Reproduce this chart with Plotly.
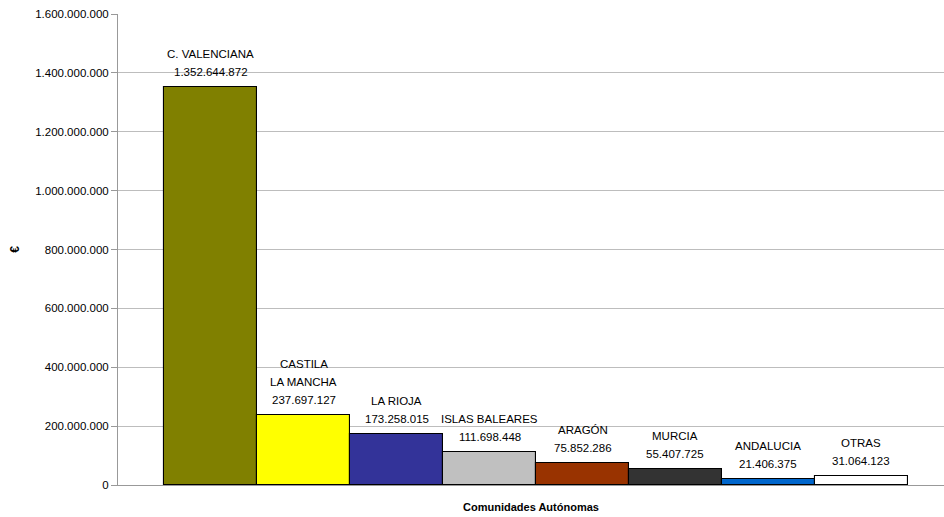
import plotly.graph_objects as go

categories = ["C. VALENCIANA", "CASTILA<br>LA MANCHA", "LA RIOJA", "ISLAS BALEARES",
              "ARAGÓN", "MURCIA", "ANDALUCIA", "OTRAS"]
values = [1352644872, 237697127, 173258015, 111698448, 75852286, 55407725, 21406375, 31064123]
value_labels = ["1.352.644.872", "237.697.127", "173.258.015", "111.698.448",
                "75.852.286", "55.407.725", "21.406.375", "31.064.123"]
colors = ["#808000", "#FFFF00", "#333399", "#C0C0C0", "#993300", "#333333", "#0066CC", "#FFFFFF"]
tick_vals = [0, 200000000, 400000000, 600000000, 800000000, 1000000000, 1200000000, 1400000000, 1600000000]

FONT = "Liberation Sans"
xs = list(range(len(categories)))

fig = go.Figure()
fig.add_trace(go.Bar(
    x=xs, y=values, width=1,
    marker=dict(color=colors, line=dict(color="#000000", width=1.1)),
    hoverinfo="skip",
))

annotations = []
for i, (cat, val, lab) in enumerate(zip(categories, values, value_labels)):
    lines = cat.split("<br>") + [lab]
    for k, line in enumerate(reversed(lines)):
        annotations.append(dict(
            x=i, y=val, xref="x", yref="y", text=line, showarrow=False,
            yanchor="middle", yshift=15 + k * 18,
            font=dict(family=FONT, size=11.5, color="#000000"),
        ))

fig.update_layout(
    width=944, height=517,
    margin=dict(l=118, r=0, t=14, b=32),
    paper_bgcolor="white", plot_bgcolor="white",
    separators=",.",
    showlegend=False,
    bargap=0,
    annotations=annotations,
    font=dict(family=FONT, size=11.5, color="#000000"),
)
fig.update_xaxes(
    range=[-1, 7.89], showticklabels=False, showgrid=False, zeroline=False,
    showline=True, linecolor="#999999", linewidth=1, ticks="",
    title=dict(text="<b>Comunidades Autónomas</b>", font=dict(family=FONT, size=11), standoff=18),
)
fig.update_yaxes(
    range=[0, 1600000000], tickvals=tick_vals, tickformat=",d",
    showgrid=True, gridcolor="#BDBDBD", gridwidth=1, zeroline=False,
    showline=True, linecolor="#999999", linewidth=1,
    ticks="outside", ticklen=6, tickcolor="#999999",
    tickfont=dict(family=FONT, size=11.5, color="#000000"),
    title=dict(text="<b>€</b>", font=dict(family=FONT, size=12), standoff=12),
)

fig.write_html("out.html")
